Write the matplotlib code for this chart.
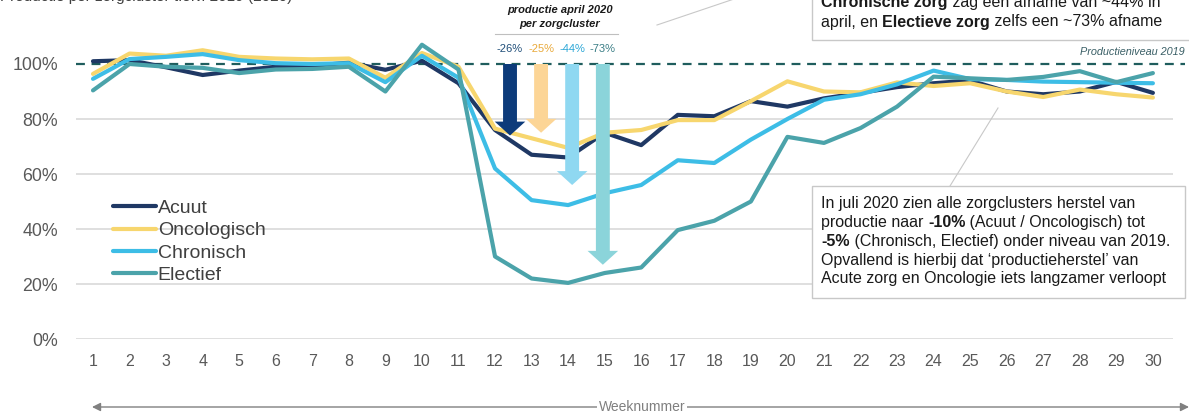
import matplotlib
matplotlib.use("Agg")
import matplotlib.pyplot as plt
from matplotlib.patches import FancyArrowPatch, Rectangle, ArrowStyle
from matplotlib.lines import Line2D

plt.rcParams['font.family'] = ['Liberation Sans', 'DejaVu Sans']

# data (index = week number 1..30)
weeks = list(range(1, 31))
acuut = [101, 101.4, 98.8, 96, 97.6, 99, 99.3, 100.5, 97.9, 101.2,
         93, 76, 67, 66, 75, 70.5, 81.5, 81, 86.5, 84.5,
         87.5, 89.5, 91.6, 93, 94, 90, 89, 90, 93.5, 89.5]
oncologisch = [96.4, 103.8, 103, 105, 102.6, 102, 101.7, 102, 95, 104,
               99, 76.5, 73, 69.5, 75, 76, 79.6, 79.6, 86.5, 93.7,
               90, 89.7, 93.3, 92, 93, 90, 88, 90.7, 89, 87.8]
chronisch = [94.6, 101.8, 102.6, 103.6, 101.4, 100.3, 100, 100.3, 93.4, 103,
             95, 62, 50.5, 48.7, 53, 56, 65, 64, 72.5, 80,
             87, 89, 92.6, 97.6, 94.5, 94.2, 93.6, 93.4, 93.2, 93]
electief = [90.4, 100, 99, 98.6, 96.7, 98, 98.2, 99, 90, 107,
            98, 30, 22, 20.4, 24, 26, 39.6, 43, 50, 73.5,
            71.3, 76.7, 84.5, 95.4, 94.8, 94.2, 95.3, 97.4, 93.4, 96.7]

series_names = ['Acuut', 'Oncologisch', 'Chronisch', 'Electief']
series_colors = ['#1f3864', '#f7d66e', '#3dbde6', '#4ba3aa']

# april drop per zorgcluster
drop_labels = ['-26%', '-25%', '-44%', '-73%']
drop_values = [26, 25, 44, 73]
drop_text_colors = ['#1f4e79', '#e9a93a', '#2aa6d6', '#3b7e86']
drop_arrow_colors = ['#0d3b7a', '#fcd596', '#8fd8f1', '#8bd4da']
drop_x = [12.41, 13.26, 14.11, 14.95]

W, H = 1189, 415
fig = plt.figure(figsize=(W / 100, H / 100), dpi=100)


def fx(px):
    return px / W


def fy(py):
    return 1 - py / H


ax = fig.add_axes([fx(76), fy(339), fx(1173) - fx(76), fy(36.5) - fy(339)])
ax.set_xlim(0.535, 30.55)
ax.set_ylim(0, 110)
for s in ax.spines.values():
    s.set_visible(False)
ax.tick_params(length=0)
ax.set_yticks([0, 20, 40, 60, 80, 100])
ax.set_yticklabels(['0%', '20%', '40%', '60%', '80%', '100%'], fontsize=12.8, color='#595959')
ax.tick_params(axis='y', pad=13)
ax.set_xticks(weeks)
ax.set_xticklabels([str(w) for w in weeks], fontsize=11.5, color='#595959')
ax.tick_params(axis='x', pad=11)
for v in [0, 20, 40, 60, 80]:
    ax.axhline(v, color='#d9d9d9', lw=1.2, zorder=0)

ax.hlines(100, 0.535, 30.87, colors='#1f5d5d', linestyles=(0, (4, 3)), lw=1.6,
          clip_on=False, zorder=1)

for vals, name, col in zip([acuut, oncologisch, chronisch, electief], series_names, series_colors):
    ax.plot(weeks, vals, color=col, lw=3, label=name, solid_capstyle='round', zorder=3)

# drop arrows
for x, d, col in zip(drop_x, drop_values, drop_arrow_colors):
    arr = FancyArrowPatch((x, 100), (x, 100 - d),
                          arrowstyle=ArrowStyle.Simple(head_length=10, head_width=22, tail_width=10),
                          mutation_scale=1, color=col, shrinkA=0, shrinkB=0, zorder=4, lw=0)
    ax.add_patch(arr)
for x, lab, col in zip(drop_x, drop_labels, drop_text_colors):
    ax.text(x, 105.5, lab, ha='center', va='center', fontsize=8, color=col, zorder=5)

ax.text(30.87, 104.5, 'Productieniveau 2019', ha='right', va='center', fontsize=7.8,
        style='italic', color='#3a5f66')

leg = ax.legend(loc='upper left', bbox_to_anchor=(0.0337, 0.462),
                frameon=False, fontsize=14, handlelength=2.2, handletextpad=0.1,
                labelspacing=0.25, borderaxespad=0, borderpad=0)
for t in leg.get_texts():
    t.set_color('#404040')

# title over the arrows
fig.text(fx(560), fy(10), 'productie april 2020', ha='center', va='center',
         fontsize=8, fontweight='bold', style='italic', color='#1a1a1a')
fig.text(fx(560), fy(24), 'per zorgcluster', ha='center', va='center',
         fontsize=8, fontweight='bold', style='italic', color='#1a1a1a')
fig.add_artist(Line2D([fx(495), fx(618)], [fy(34), fy(34)], color='#bfbfbf', lw=0.8))
fig.add_artist(Line2D([fx(657), fx(740)], [fy(25), fy(-3)], color='#c8c8c8', lw=0.8))

# cut-off heading top-left
fig.text(fx(0), fy(1.5), 'Productie per zorgcluster t.o.v. 2019 (2020)', ha='left', va='baseline',
         fontsize=11, color='#404040')

renderer = fig.canvas.get_renderer()


def rich_line(x_px, y_px, parts, size):
    x = fx(x_px)
    for s, bold in parts:
        t = fig.text(x, fy(y_px), s, fontsize=size, va='center', ha='left', color='#1a1a1a',
                     fontweight='bold' if bold else 'normal', zorder=11)
        bb = t.get_window_extent(renderer)
        x += bb.width / fig.bbox.width


# top right box
fig.add_artist(Rectangle((fx(812), fy(40)), fx(1195) - fx(812), fy(-20) - fy(40),
                         facecolor='white', edgecolor='#c8c8c8', lw=1, zorder=10))
rich_line(821, 3, [('Chronische zorg', True), (' zag een afname van ~44% in', False)], 11.5)
rich_line(821, 22, [('april, en ', False), ('Electieve zorg', True), (' zelfs een ~73% afname', False)], 11.5)

# connector + bottom right box
fig.add_artist(Line2D([fx(998), fx(950)], [fy(108), fy(186)], color='#c8c8c8', lw=0.8))
fig.add_artist(Rectangle((fx(812), fy(298)), fx(1185) - fx(812), fy(186) - fy(298),
                         facecolor='white', edgecolor='#c8c8c8', lw=1, zorder=10))
box_lines = [
    [('In juli 2020 zien alle zorgclusters herstel van', False)],
    [('productie naar ', False), ('-10%', True), (' (Acuut / Oncologisch) tot', False)],
    [('-5%', True), (' (Chronisch, Electief) onder niveau van 2019.', False)],
    [('Opvallend is hierbij dat \u2018productieherstel\u2019 van', False)],
    [('Acute zorg en Oncologie iets langzamer verloopt', False)],
]
for i, parts in enumerate(box_lines):
    rich_line(821, 203 + i * 19, parts, 11.5)

# week axis arrow
fig.add_artist(FancyArrowPatch((fx(92), fy(407)), (fx(1189), fy(407)), transform=fig.transFigure,
                               arrowstyle='<|-|>,head_length=5,head_width=2.5', color='#808080',
                               lw=1, shrinkA=0, shrinkB=0))
fig.text(fx(642), fy(407), 'Weeknummer', ha='center', va='center', fontsize=10, color='#7f7f7f',
         bbox=dict(facecolor='white', edgecolor='none', pad=1.5))

fig.savefig('out.png', dpi=100)
